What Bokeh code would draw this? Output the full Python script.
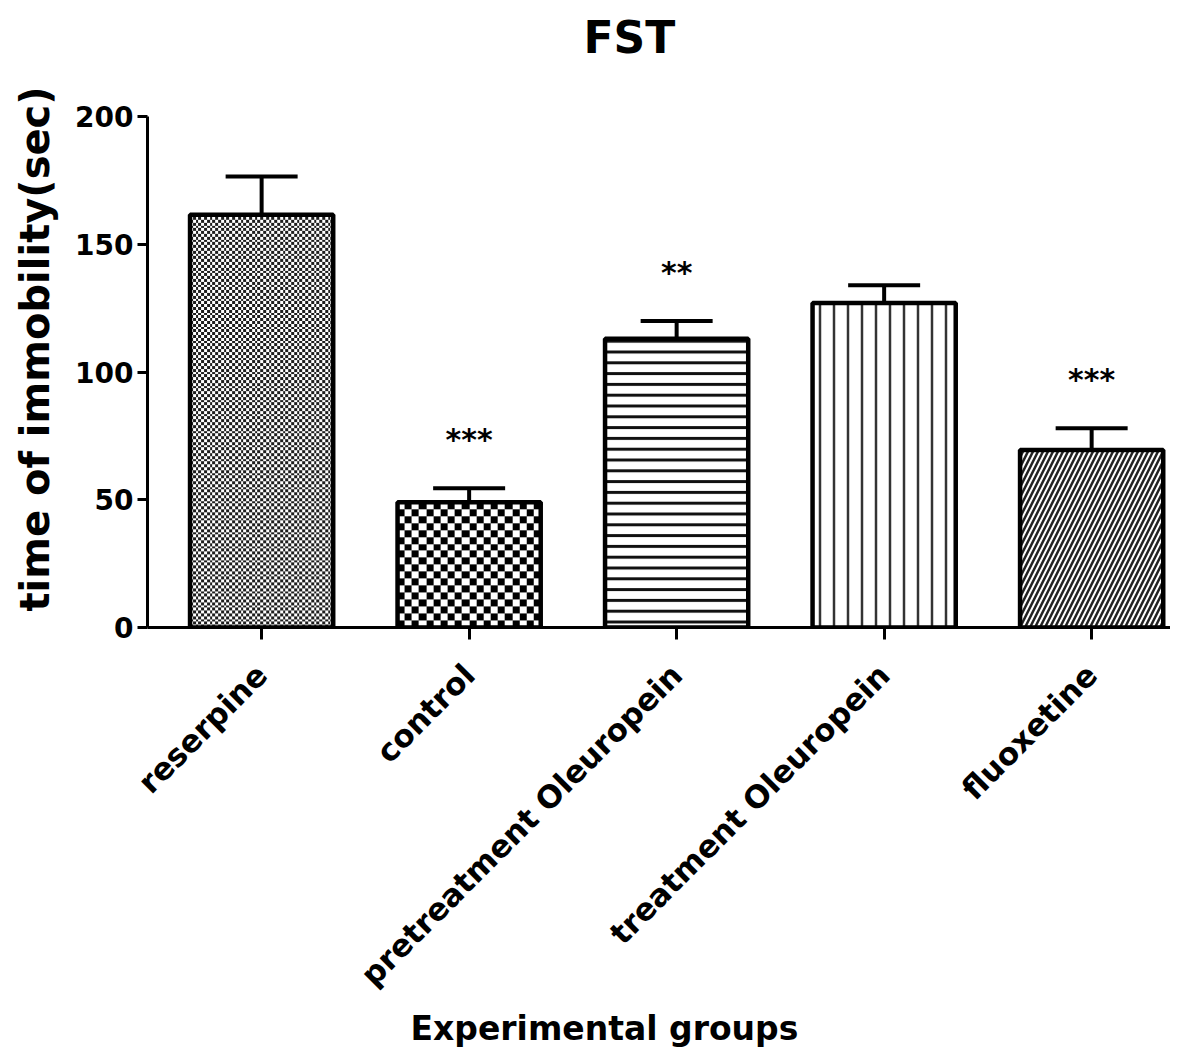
import math
import numpy as np
from bokeh.plotting import figure
from bokeh.models import (Range1d, FixedTicker, Whisker, TeeHead, ColumnDataSource,
                          LinearColorMapper, Title)
from bokeh.core.properties import value
from bokeh.embed import file_html
from bokeh.resources import INLINE

# ---- data ----
groups = ["reserpine", "control", "pretreatment Oleuropein", "treatment Oleuropein", "fluoxetine"]
means = [161.5, 49, 113, 127, 69.5]
sem = [15, 5.5, 7, 7, 8.5]
stars = ["", "***", "**", "", "***"]
y_ticks = [0, 50, 100, 150, 200]
title_text = "FST"
x_label = "Experimental groups"
y_label = "time of immobility(sec)"

FONT = "DejaVu Sans"

# ---- geometry / style ----
W, H = 1170, 1050
BL, BT, BB = 147, 70, 423
AXIS_TOP_PX = 116              # page y of the value 200
X0, X1 = -0.55, 4.38
Y0, YMAX = 0, 200
BAR_W = 0.69
px_per_x = (W - BL) / (X1 - X0)
px_per_y = (H - AXIS_TOP_PX - BB) / (YMAX - Y0)
Y1 = YMAX + (AXIS_TOP_PX - BT) / px_per_y

xs = list(range(len(groups)))
uppers = [m + e for m, e in zip(means, sem)]

p = figure(width=W, height=H, output_backend="svg", toolbar_location=None,
           x_range=Range1d(X0, X1), y_range=Range1d(Y0, Y1),
           min_border_left=BL, min_border_right=0, min_border_top=BT, min_border_bottom=BB)
p.outline_line_color = None
p.xgrid.visible = False
p.ygrid.visible = False
p.background_fill_color = "white"

p.title.text = title_text
p.title.align = "left"
p.title.offset = 436
p.title.vertical_align = "bottom"
p.title.standoff = 16
p.title.text_font = FONT
p.title.text_font_size = "44px"
p.title.text_font_style = "bold"
p.title.text_color = "black"


def checker(i, cell_px, oversample=4):
    cols = max(1, round(BAR_W * px_per_x / cell_px))
    rows = max(1, round(means[i] * px_per_y / cell_px))
    r = np.arange(rows * oversample) // oversample
    c = np.arange(cols * oversample) // oversample
    return ((r[:, None] + c[None, :]) % 2).astype(float)


cmap_fine = LinearColorMapper(palette=["#1e1e1e", "#ffffff"], low=0, high=1)
cmap_coarse = LinearColorMapper(palette=["#000000", "#ffffff"], low=0, high=1)

# checkered bars (reserpine fine, control coarse)
p.image(image=[checker(0, 2.8)], x=xs[0] - BAR_W / 2, y=0, dw=BAR_W, dh=means[0],
        color_mapper=cmap_fine)
p.image(image=[checker(1, 7)], x=xs[1] - BAR_W / 2, y=0, dw=BAR_W, dh=means[1],
        color_mapper=cmap_coarse)

styles = [
    dict(fill_color=None),
    dict(fill_color=None),
    dict(fill_color="white", hatch_pattern="horizontal_line", hatch_scale=10.8, hatch_weight=3,
         hatch_color="#111111"),
    dict(fill_color="white", hatch_pattern="vertical_line", hatch_scale=14, hatch_weight=2.5,
         hatch_color="#333333"),
    dict(fill_color="white", hatch_pattern="right_diagonal_line", hatch_scale=10, hatch_weight=2.5,
         hatch_color="#222222"),
]

for i in range(len(groups)):
    p.vbar(x=[xs[i]], top=[means[i]], bottom=0, width=BAR_W,
           line_color="black", line_width=4.5, **styles[i])

src = ColumnDataSource(dict(x=xs, lower=means, upper=uppers))
w = Whisker(base="x", lower="lower", upper="upper", source=src, line_width=4,
            line_color="black", lower_head=None,
            upper_head=TeeHead(size=72, line_width=4, line_color="black"))
p.add_layout(w)

star_src = ColumnDataSource(dict(x=xs, y=[u + 19 for u in uppers], t=stars))
p.text(x="x", y="y", text="t", source=star_src, text_align="center", text_baseline="middle",
       text_font=value(FONT), text_font_size="30px", text_font_style="bold", text_color="black")

# axes
p.xaxis.ticker = FixedTicker(ticks=xs)
p.xaxis.major_label_overrides = {i: g for i, g in enumerate(groups)}
p.xaxis.major_label_orientation = math.pi / 4
p.xaxis.major_label_text_font = FONT
p.xaxis.major_label_text_font_size = "31px"
p.xaxis.major_label_text_font_style = "bold"
p.xaxis.major_label_text_color = "black"
p.xaxis.major_label_standoff = 30
p.xaxis.minor_tick_line_color = None
p.xaxis.major_tick_out = 12
p.xaxis.major_tick_in = 0
p.xaxis.axis_line_width = 3
p.xaxis.major_tick_line_width = 3

xlabel = Title(text=x_label, align="left", offset=263, vertical_align="top",
               standoff=0, text_font=FONT, text_font_size="33px", text_font_style="bold",
               text_color="black")
p.add_layout(xlabel, "below")

p.yaxis.ticker = FixedTicker(ticks=y_ticks)
p.yaxis.bounds = (Y0, YMAX)
p.yaxis.major_label_text_font = FONT
p.yaxis.major_label_text_font_size = "28px"
p.yaxis.major_label_text_font_style = "bold"
p.yaxis.major_label_text_color = "black"
p.yaxis.major_label_standoff = 4
p.yaxis.axis_label = y_label
p.yaxis.axis_label_text_font = FONT
p.yaxis.axis_label_text_font_size = "40px"
p.yaxis.axis_label_text_font_style = "bold"
p.yaxis.axis_label_text_color = "black"
p.yaxis.axis_label_standoff = 14
p.yaxis.minor_tick_line_color = None
p.yaxis.major_tick_out = 10
p.yaxis.major_tick_in = 0
p.yaxis.axis_line_width = 3
p.yaxis.major_tick_line_width = 3

open("out.html", "w").write(file_html(p, INLINE))
